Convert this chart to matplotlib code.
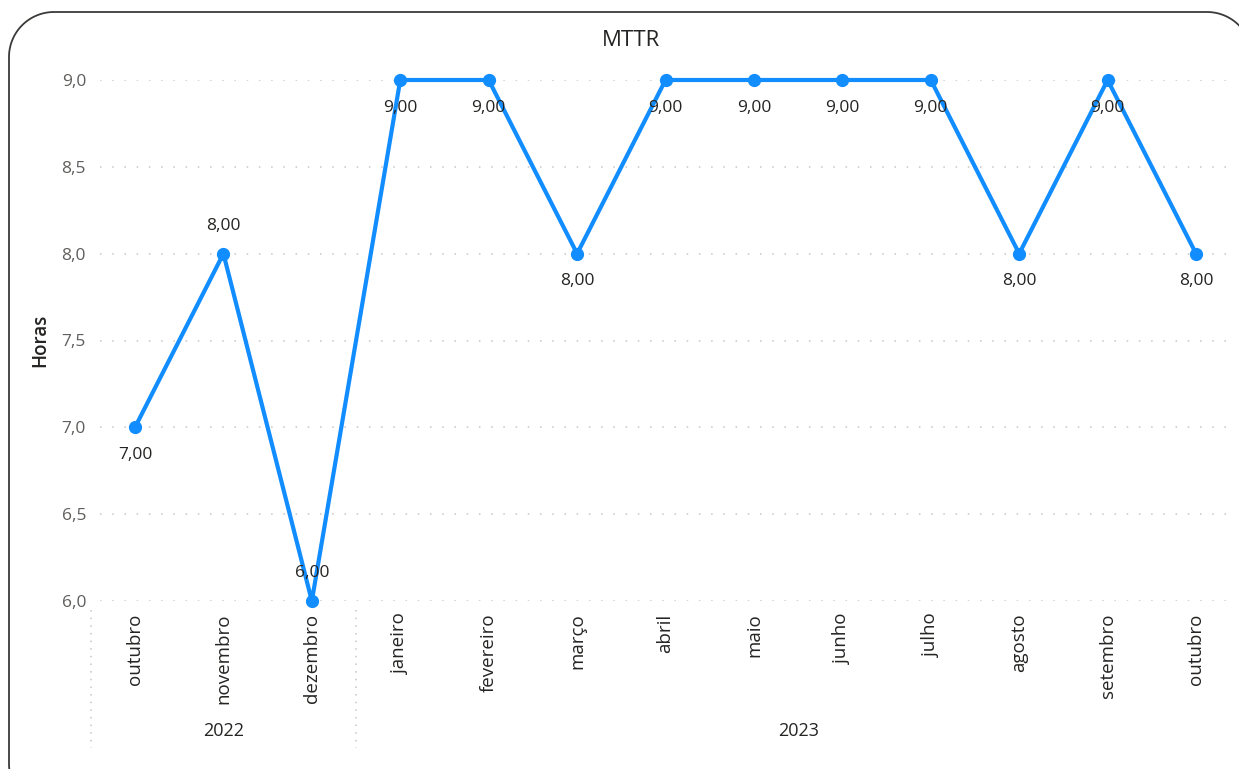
import numpy as np
import matplotlib.pyplot as plt
from matplotlib.path import Path
from matplotlib.patches import PathPatch
from matplotlib.transforms import IdentityTransform, blended_transform_factory

plt.rcParams['font.family'] = ['Open Sans', 'DejaVu Sans']

# MTTR per month, in hours
months = ['outubro', 'novembro', 'dezembro', 'janeiro', 'fevereiro', 'março',
          'abril', 'maio', 'junho', 'julho', 'agosto', 'setembro', 'outubro']
years = ['2022', '2023']
months_per_year = [3, 10]
mttr = [7.0, 8.0, 6.0, 9.0, 9.0, 8.0, 9.0, 9.0, 9.0, 9.0, 8.0, 9.0, 8.0]
label_above = [False, True, True, False, False, False, False, False, False,
               False, False, False, False]

W, H = 1239, 769
fig = plt.figure(figsize=(W / 100, H / 100), dpi=100)

# plot area in pixels; categories are 88.4 px apart, first one at x=135
x0_px, step = 135, 88.42
px_l, px_r, px_t, px_b = 100, 1228, 80, 601
ax = fig.add_axes([px_l / W, 1 - px_b / H, (px_r - px_l) / W, (px_b - px_t) / H])

blue = '#118DFF'
ink = '#252423'
x = list(range(len(months)))
ax.plot(x, mttr, color=blue, lw=3, marker='o', ms=8.5, clip_on=False, zorder=3)

for xi, v, up in zip(x, mttr, label_above):
    ax.annotate(f'{v:.2f}'.replace('.', ','), (xi, v),
                xytext=(0, 20 if up else -20), textcoords='offset points',
                ha='center', va='center', fontsize=12.5, color=ink, zorder=4,
                annotation_clip=False)

ax.set_xlim((px_l - x0_px) / step, (px_r - x0_px) / step)
ax.set_ylim(6, 9)
yt = [6.0, 6.5, 7.0, 7.5, 8.0, 8.5, 9.0]
ax.set_yticks(yt)
ax.set_yticklabels([f'{t:.1f}'.replace('.', ',') for t in yt],
                   fontsize=12.5, color='#605E5C')
ax.grid(axis='y', color='#C8C6C4', lw=1.1, linestyle=(0, (1, 7)))
ax.set_axisbelow(True)
ax.tick_params(axis='y', length=0, pad=10)
ax.set_xticks(x)
ax.set_xticklabels(months, rotation=90, fontsize=13.5, color=ink, va='top')
ax.tick_params(axis='x', length=0, pad=9)
for s in ax.spines.values():
    s.set_visible(False)

ax.set_ylabel('Horas', fontsize=13.5, color=ink, fontweight='semibold',
              labelpad=8)
fig.text(631 / W, 1 - 41 / H, 'MTTR', ha='center', va='center',
         fontsize=16, color=ink)

# year groups below the month labels, with dotted separators
tr = blended_transform_factory(ax.transData, ax.transAxes)
sep_y0 = -(610 - px_b) / (px_b - px_t)
sep_y1 = -(748 - px_b) / (px_b - px_t)
year_y = -(731 - px_b) / (px_b - px_t)
start = 0
for yr, n in zip(years, months_per_year):
    g0, g1 = start - 0.5, start + n - 0.5
    ax.text((g0 + g1) / 2, year_y, yr, transform=tr, ha='center', va='center',
            fontsize=13, color=ink, clip_on=False)
    ax.plot([g0, g0], [sep_y0, sep_y1], transform=tr, color='#C8C6C4',
            lw=1.1, linestyle=(0, (1, 4)), clip_on=False)
    start += n

# rounded card border, in pixels (origin bottom-left)
r = 45
left, right, top, bottom = 9, 1252, H - 12, -40
theta = np.linspace(0, np.pi / 2, 30)
verts = []
for cx, cy, a0 in [(right - r, top - r, 0), (left + r, top - r, np.pi / 2),
                   (left + r, bottom + r, np.pi), (right - r, bottom + r, 1.5 * np.pi)]:
    verts += [(cx + r * np.cos(a0 + t), cy + r * np.sin(a0 + t)) for t in theta]
verts.append(verts[0])
card = PathPatch(Path(verts), transform=IdentityTransform(), fill=False,
                 edgecolor='#3b3a39', lw=1.3)
fig.add_artist(card)

fig.savefig('out.png', dpi=100)
